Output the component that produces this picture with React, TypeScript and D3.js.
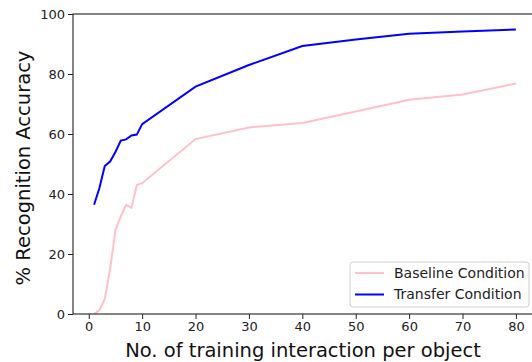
import { useEffect, useRef } from 'react';
import * as d3 from 'd3';

const W = 532;
const H = 362;

const transferX = [1, 2, 3, 4, 5, 6, 7, 8, 9, 10, 20, 30, 40, 50, 60, 70, 80];
const transferY = [36.4, 42, 49.3, 50.8, 54, 57.8, 58.2, 59.5, 59.8, 63.3, 75.8, 83, 89.3, 91.5, 93.4, 94.2, 94.8];

const baselineX = [1, 2, 3, 4, 5, 6, 7, 8, 9, 10, 20, 30, 40, 50, 60, 70, 80];
const baselineY = [0, 1.3, 5, 15, 28, 32.5, 36.4, 35.4, 43, 43.6, 58.3, 62.2, 63.7, 67.5, 71.4, 73.2, 76.8];

const xTicks = [0, 10, 20, 30, 40, 50, 60, 70, 80];
const yTicks = [0, 20, 40, 60, 80, 100];

const FONT = 'DejaVu Sans, sans-serif';

export default function App() {
  const ref = useRef<SVGSVGElement | null>(null);

  useEffect(() => {
    if (!ref.current) return;
    const svg = d3.select(ref.current);
    svg.selectAll('*').remove();

    const left = 73;
    const top = 14;
    const bottom = 314;
    const right = 537;

    const x = d3.scaleLinear().domain([-2.95, 83.95]).range([left, right]);
    const y = d3.scaleLinear().domain([0, 100]).range([bottom, top]);

    svg.append('rect').attr('width', W).attr('height', H).attr('fill', '#fff');

    const line = d3
      .line<[number, number]>()
      .x(d => x(d[0]))
      .y(d => y(d[1]));

    svg
      .append('path')
      .datum(baselineX.map((v, i) => [v, baselineY[i]] as [number, number]))
      .attr('d', line)
      .attr('fill', 'none')
      .attr('stroke', '#ffc0cb')
      .attr('stroke-width', 2);

    svg
      .append('path')
      .datum(transferX.map((v, i) => [v, transferY[i]] as [number, number]))
      .attr('d', line)
      .attr('fill', 'none')
      .attr('stroke', '#0000ff')
      .attr('stroke-width', 2);

    // spines
    const spine = svg.append('g').attr('stroke', '#222').attr('stroke-width', 1.1).attr('fill', 'none');
    spine.append('rect').attr('x', left).attr('y', top).attr('width', right - left).attr('height', bottom - top);

    const xAxis = svg
      .append('g')
      .attr('transform', `translate(0,${bottom})`)
      .call(d3.axisBottom(x).tickValues(xTicks).tickSize(5).tickPadding(3).tickFormat(d3.format('d')));
    xAxis.select('.domain').remove();

    const yAxis = svg
      .append('g')
      .attr('transform', `translate(${left},0)`)
      .call(d3.axisLeft(y).tickValues(yTicks).tickSize(5).tickPadding(3).tickFormat(d3.format('d')));
    yAxis.select('.domain').remove();

    svg.selectAll('.tick line').attr('stroke', '#222');
    svg
      .selectAll('.tick text')
      .attr('fill', '#222')
      .style('font-family', FONT)
      .style('font-size', '13px');

    svg
      .append('text')
      .attr('x', 303)
      .attr('y', 357)
      .attr('text-anchor', 'middle')
      .attr('fill', '#111')
      .style('font-family', FONT)
      .style('font-size', '19.5px')
      .text('No. of training interaction per object');

    svg
      .append('text')
      .attr('transform', `translate(30,168) rotate(-90)`)
      .attr('text-anchor', 'middle')
      .attr('fill', '#111')
      .style('font-family', FONT)
      .style('font-size', '19.5px')
      .text('% Recognition Accuracy');

    // legend
    const lg = svg.append('g').attr('transform', 'translate(350,262)');
    lg.append('rect')
      .attr('width', 179)
      .attr('height', 45)
      .attr('rx', 3)
      .attr('fill', '#fff')
      .attr('fill-opacity', 0.8)
      .attr('stroke', '#d0d0d0');

    const entries = [
      { name: 'Baseline Condition', color: '#ffc0cb' },
      { name: 'Transfer Condition', color: '#0000ff' },
    ];
    entries.forEach((e, i) => {
      const cy = 11 + i * 21.5;
      lg.append('line')
        .attr('x1', 5)
        .attr('x2', 34)
        .attr('y1', cy)
        .attr('y2', cy)
        .attr('stroke', e.color)
        .attr('stroke-width', 2);
      lg.append('text')
        .attr('x', 44)
        .attr('y', cy)
        .attr('dy', '0.35em')
        .attr('fill', '#222')
        .style('font-family', FONT)
        .style('font-size', '14px')
        .text(e.name);
    });
  }, []);

  return (
    <svg
      ref={ref}
      width={W}
      height={H}
      style={{ position: 'absolute', left: 0, top: 0, display: 'block' }}
    />
  );
}
